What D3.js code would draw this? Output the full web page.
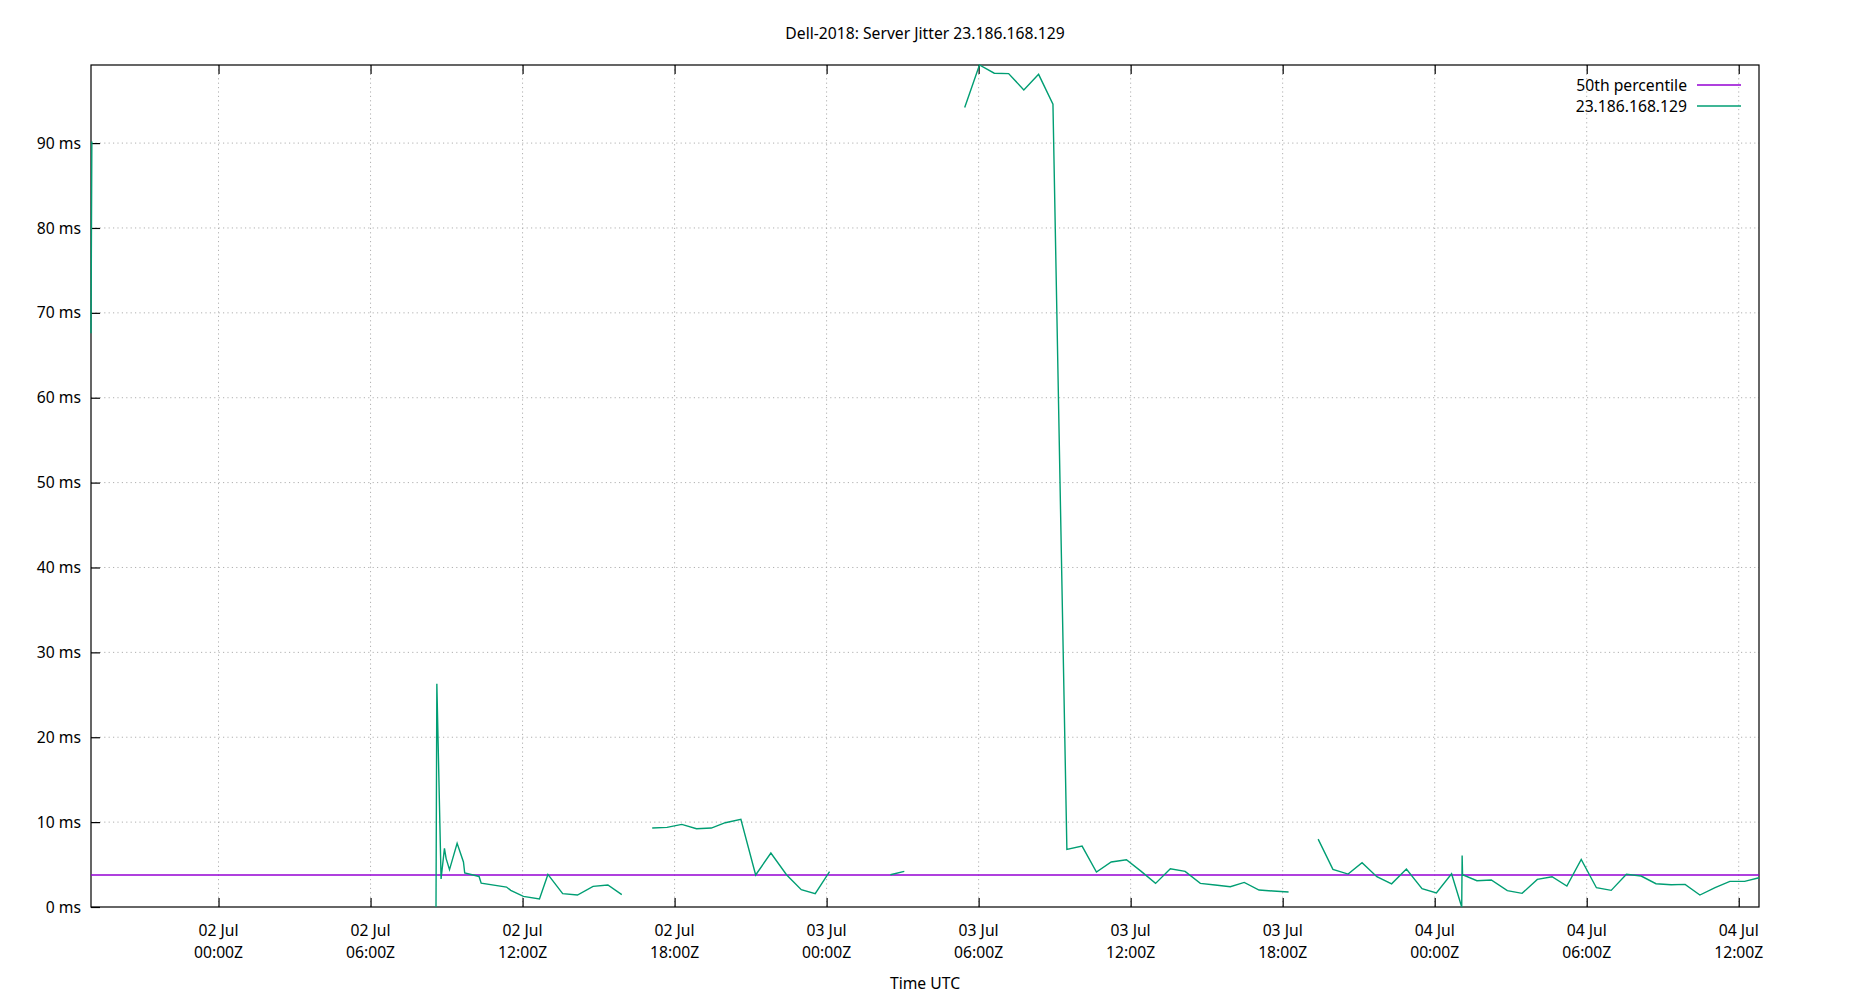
<!DOCTYPE html>
<html>
<head>
<meta charset="utf-8">
<script src="https://cdn.jsdelivr.net/npm/d3@7"></script>
<style>
  body { margin: 0; background: #fff; }
  text { font-family: "Noto Sans", "Open Sans", sans-serif; font-size: 15.7px; fill: #000; }
  .grid line { stroke: #b0b0b0; stroke-width: 1; stroke-dasharray: 1.2,3.2; }
</style>
</head>
<body>
<div id="vis"></div>
<script>
//Chart data: sample times (UTC) and jitter values, null marks a gap in the samples
var sampleTimes = [
  "2018-07-01T18:58Z", "2018-07-01T19:00Z", "2018-07-02T04:00Z",
  "2018-07-02T08:35Z", "2018-07-02T08:37Z", "2018-07-02T08:47Z", "2018-07-02T08:55Z", "2018-07-02T08:59Z",
  "2018-07-02T09:07Z", "2018-07-02T09:25Z", "2018-07-02T09:40Z", "2018-07-02T09:43Z", "2018-07-02T10:17Z",
  "2018-07-02T10:22Z", "2018-07-02T11:22Z", "2018-07-02T11:32Z", "2018-07-02T12:02Z", "2018-07-02T12:40Z",
  "2018-07-02T13:00Z", "2018-07-02T13:35Z", "2018-07-02T14:10Z", "2018-07-02T14:47Z", "2018-07-02T15:22Z",
  "2018-07-02T15:55Z", "2018-07-02T16:30Z",
  "2018-07-02T17:07Z", "2018-07-02T17:42Z", "2018-07-02T18:17Z", "2018-07-02T18:52Z", "2018-07-02T19:27Z",
  "2018-07-02T20:00Z", "2018-07-02T20:37Z", "2018-07-02T21:12Z", "2018-07-02T21:48Z", "2018-07-02T22:25Z",
  "2018-07-02T23:00Z", "2018-07-02T23:33Z", "2018-07-03T00:07Z", "2018-07-03T01:00Z",
  "2018-07-03T02:31Z", "2018-07-03T03:04Z", "2018-07-03T04:00Z",
  "2018-07-03T05:27Z", "2018-07-03T06:02Z", "2018-07-03T06:37Z", "2018-07-03T07:11Z", "2018-07-03T07:47Z",
  "2018-07-03T08:22Z", "2018-07-03T08:56Z", "2018-07-03T09:29Z", "2018-07-03T10:05Z", "2018-07-03T10:39Z",
  "2018-07-03T11:14Z", "2018-07-03T11:50Z", "2018-07-03T12:25Z", "2018-07-03T12:59Z", "2018-07-03T13:34Z",
  "2018-07-03T14:09Z", "2018-07-03T14:45Z", "2018-07-03T15:20Z", "2018-07-03T15:56Z", "2018-07-03T16:29Z",
  "2018-07-03T17:04Z", "2018-07-03T17:37Z", "2018-07-03T18:14Z", "2018-07-03T18:50Z",
  "2018-07-03T19:24Z", "2018-07-03T19:59Z", "2018-07-03T20:35Z", "2018-07-03T21:08Z", "2018-07-03T21:43Z",
  "2018-07-03T22:18Z", "2018-07-03T22:53Z", "2018-07-03T23:30Z", "2018-07-04T00:04Z", "2018-07-04T00:40Z",
  "2018-07-04T01:04Z", "2018-07-04T01:05Z", "2018-07-04T01:06Z", "2018-07-04T01:40Z", "2018-07-04T02:14Z",
  "2018-07-04T02:52Z", "2018-07-04T03:27Z", "2018-07-04T04:03Z", "2018-07-04T04:38Z", "2018-07-04T05:13Z",
  "2018-07-04T05:47Z", "2018-07-04T06:23Z", "2018-07-04T06:58Z", "2018-07-04T07:34Z", "2018-07-04T08:09Z",
  "2018-07-04T08:44Z", "2018-07-04T09:20Z", "2018-07-04T09:53Z", "2018-07-04T10:28Z", "2018-07-04T11:04Z",
  "2018-07-04T11:39Z", "2018-07-04T12:14Z", "2018-07-04T12:48Z"
];

var jitterMs = [
  67.6, 90.2, null,
  0.0, 26.3, 3.3, 6.9, 5.7,
  4.4, 7.5, 5.3, 4.0, 3.6,
  2.8, 2.35, 1.96, 1.25, 0.94,
  3.84, 1.57, 1.41, 2.43, 2.59,
  1.45, null,
  9.3, 9.38, 9.73, 9.22, 9.3,
  9.93, 10.32, 3.77, 6.36, 3.8,
  2.04, 1.57, 4.16, null,
  3.8, 4.2, null,
  94.2, 99.2, 98.23, 98.19, 96.27,
  98.1, 94.58, 6.79, 7.18, 4.12,
  5.3, 5.57, 4.2, 2.78, 4.51,
  4.2, 2.78, 2.59, 2.39, 2.9,
  2.0, 1.88, 1.76, null,
  8.0, 4.43, 3.88, 5.22, 3.57,
  2.73, 4.47, 2.17, 1.65, 3.92,
  0.0, 6.08, 3.8, 3.1, 3.18,
  1.92, 1.61, 3.25, 3.57, 2.47,
  5.61, 2.27, 1.96, 3.85, 3.65,
  2.74, 2.63, 2.67, 1.41, 2.27,
  3.02, 3.02, 3.45
];

//50th percentile of the jitter, drawn as a flat line
var percentileMs = [3.77];

var seriesNames = ["50th percentile", "23.186.168.129"];
var seriesColors = ["#9400d3", "#009e73"];
var yTickValues = [0, 10, 20, 30, 40, 50, 60, 70, 80, 90];

//Margins and plot dimensions
var margin = {top: 65, right: 91, bottom: 93, left: 91},
    width = 1850 - margin.left - margin.right,
    height = 1000 - margin.top - margin.bottom;

var points = sampleTimes.map(function(t, i) {
  return {time: new Date(t), ms: jitterMs[i]};
});
var realPoints = points.filter(function(d) { return d.ms !== null; });

//Scales (gnuplot style autoscale: the data range on both axes, y from zero)
var xScale = d3.scaleUtc()
               .domain(d3.extent(realPoints, function(d) { return d.time; }))
               .range([0, width]);

var yScale = d3.scaleLinear()
               .domain([0, d3.max(realPoints, function(d) { return d.ms; })])
               .range([height, 0]);

var xTickValues = d3.utcHour.every(6).range(xScale.domain()[0], xScale.domain()[1]);

var svgCanvas = d3.select("#vis")
                  .append("svg")
                  .attr("width", 1850)
                  .attr("height", 1000);

var plot = svgCanvas.append("g")
                    .attr("transform", "translate(" + margin.left + "," + margin.top + ")");

//Dotted grid lines
var grid = plot.append("g").attr("class", "grid");
grid.selectAll(".gx").data(xTickValues).enter().append("line")
    .attr("x1", function(d) { return xScale(d); })
    .attr("x2", function(d) { return xScale(d); })
    .attr("y1", 0).attr("y2", height);
grid.selectAll(".gy").data(yTickValues.slice(1)).enter().append("line")
    .attr("x1", 0).attr("x2", width)
    .attr("y1", function(d) { return yScale(d); })
    .attr("y2", function(d) { return yScale(d); });

//Axes with inward ticks, x ticks mirrored on top
var bottomAxis = d3.axisBottom(xScale).tickValues(xTickValues).tickSize(-9).tickFormat("");
var topAxis = d3.axisTop(xScale).tickValues(xTickValues).tickSize(-9).tickFormat("");
var leftAxis = d3.axisLeft(yScale).tickValues(yTickValues).tickSize(-9).tickFormat("");

plot.append("g").attr("transform", "translate(0," + height + ")").call(bottomAxis);
plot.append("g").call(topAxis);
plot.append("g").call(leftAxis);
plot.selectAll(".domain").remove();
plot.selectAll(".tick line").attr("stroke", "#000").attr("stroke-width", 1.2);

//Plot border
plot.append("rect")
    .attr("width", width).attr("height", height)
    .attr("fill", "none").attr("stroke", "#000").attr("stroke-width", 1.2);

//Tick labels
var xFmtDay = d3.utcFormat("%d %b"),
    xFmtTime = d3.utcFormat("%H:%MZ");
var xLabels = plot.selectAll(".xlab").data(xTickValues).enter().append("text")
    .attr("text-anchor", "middle")
    .attr("transform", function(d) { return "translate(" + xScale(d) + "," + (height + 29) + ")"; });
xLabels.append("tspan").attr("x", 0).attr("y", 0).text(function(d) { return xFmtDay(d); });
xLabels.append("tspan").attr("x", 0).attr("y", 21.5).text(function(d) { return xFmtTime(d); });

plot.selectAll(".ylab").data(yTickValues).enter().append("text")
    .attr("text-anchor", "end")
    .attr("x", -10)
    .attr("y", function(d) { return yScale(d); })
    .attr("dy", "0.36em")
    .text(function(d) { return d + " ms"; });

//Median line and the jitter series (drawn over the border, like gnuplot)
var medianLine = d3.line()
    .x(function(d) { return xScale(d); })
    .y(function() { return yScale(percentileMs[0]); });

plot.append("path")
    .datum(xScale.domain())
    .attr("d", medianLine)
    .attr("fill", "none")
    .attr("stroke", seriesColors[0])
    .attr("stroke-width", 1.4);

var jitterLine = d3.line()
    .defined(function(d) { return d.ms !== null; })
    .x(function(d) { return xScale(d.time); })
    .y(function(d) { return yScale(d.ms); });

plot.append("path")
    .datum(points)
    .attr("d", jitterLine)
    .attr("fill", "none")
    .attr("stroke", seriesColors[1])
    .attr("stroke-width", 1.4)
    .attr("stroke-linejoin", "miter");

//Legend, top right inside the plot
var legend = plot.selectAll(".legend").data(seriesNames).enter().append("g")
    .attr("transform", function(d, i) { return "translate(" + (width - 62) + "," + (20 + i * 21) + ")"; });
legend.append("text")
    .attr("x", -10).attr("dy", "0.36em")
    .attr("text-anchor", "end")
    .text(function(d) { return d; });
legend.append("line")
    .attr("x1", 0).attr("x2", 44)
    .attr("stroke", function(d, i) { return seriesColors[i]; })
    .attr("stroke-width", 1.4);

//Title and axis label
svgCanvas.append("text")
    .attr("x", margin.left + width / 2).attr("y", 39)
    .attr("text-anchor", "middle")
    .text("Dell-2018: Server Jitter 23.186.168.129");

svgCanvas.append("text")
    .attr("x", margin.left + width / 2).attr("y", 989)
    .attr("text-anchor", "middle")
    .text("Time UTC");
</script>
</body>
</html>
